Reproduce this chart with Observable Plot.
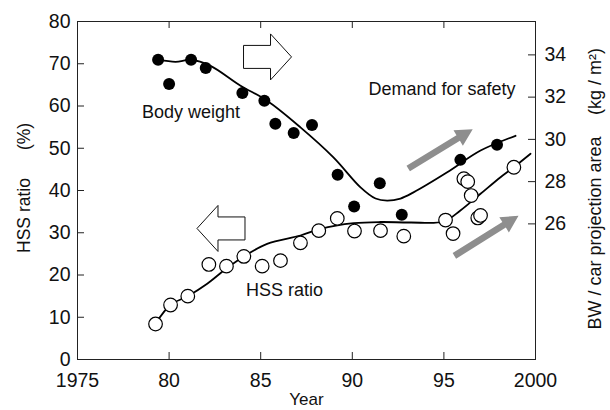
<!DOCTYPE html>
<html>
<head>
<meta charset="utf-8">
<script src="https://cdn.jsdelivr.net/npm/d3@7"></script>
<script src="https://cdn.jsdelivr.net/npm/@observablehq/plot@0.6"></script>
<style>
  html, body { margin: 0; padding: 0; background: #fff; }
  #chart { width: 610px; height: 410px; overflow: hidden; }
</style>
</head>
<body>
<div id="chart"></div>
<script>
// ---- Data ----
// Body weight per car projection area (kg/m^2) – filled dots, right axis
const bwYears  = [1979.4, 1980.0, 1981.2, 1982.0, 1984.0, 1985.2, 1985.8, 1986.8, 1987.8, 1989.2, 1990.1, 1991.5, 1992.7, 1995.9, 1997.9];
const bwValues = [33.77, 32.62, 33.77, 33.38, 32.19, 31.83, 30.74, 30.30, 30.68, 28.33, 26.82, 27.92, 26.43, 29.03, 29.75];

// Body weight trend curve (kg/m^2)
const bwCurveYears  = [1979.44, 1980.35, 1981.21, 1982.26, 1983.9, 1985.35, 1987.17, 1988.97, 1990.45, 1991.27, 1991.9, 1992.63, 1993.34, 1995.18, 1997.0, 1998.91];
const bwCurveValues = [33.77, 33.67, 33.77, 33.48, 32.54, 31.83, 30.57, 29.15, 27.73, 27.2, 27.1, 27.2, 27.49, 28.44, 29.47, 30.17];

// HSS ratio (%) – open circles, left axis
const hssYears  = [1979.26, 1980.08, 1981.02, 1982.17, 1983.13, 1984.08, 1985.08, 1986.08, 1987.17, 1988.17, 1989.18, 1990.12, 1991.54, 1992.81, 1995.09, 1995.5, 1996.09, 1996.3, 1996.49, 1996.85, 1997.0, 1998.82];
const hssValues = [8.4, 12.9, 15.0, 22.5, 22.1, 24.4, 22.1, 23.4, 27.6, 30.5, 33.4, 30.4, 30.5, 29.2, 33.0, 29.8, 42.8, 42.1, 38.8, 33.5, 34.1, 45.5];

// HSS ratio trend curve (%)
const hssCurveYears  = [1979.26, 1980.08, 1981.02, 1982.08, 1983.13, 1984.08, 1985.35, 1987.17, 1988.26, 1990.08, 1991.54, 1993.18, 1994.99, 1995.9, 1997.0, 1998.09, 1998.82, 1999.73];
const hssCurveValues = [8.45, 12.95, 14.98, 17.92, 21.54, 24.38, 27.38, 29.35, 30.93, 32.26, 32.54, 32.43, 32.66, 35.27, 39.22, 43.15, 45.52, 48.69];

// Axes
const xTicks = [1975, 1980, 1985, 1990, 1995, 2000];
const xTickLabels = ["1975", "80", "85", "90", "95", "2000"];
const yTicks = [0, 10, 20, 30, 40, 50, 60, 70, 80];
const rightTicks = [26, 28, 30, 32, 34];

// Annotations (data coordinates: year, HSS %)
const grayArrowFrom = [[1993.08, 45.1], [1995.6, 24.4]];
const grayArrowTo   = [[1996.6, 54.4], [1999.1, 33.9]];
const blockArrowAt  = [[1985.4, 71.5], [1982.86, 30.9]];
const blockArrowDir = [1, -1];

const labels = ["Body weight", "HSS ratio", "Demand for safety"];
const labelYears = [1981.2, 1986.3, 1994.9];
const labelValues = [58.5, 16.3, 64.0];

// right axis (kg/m^2) mapped onto left (%) scale
const toLeft = r => 32.1 + (r - 26) * 5;
const fromLeft = l => 26 + (l - 32.1) / 5;

const bw = bwYears.map((x, i) => ({x, y: toLeft(bwValues[i])}));
const bwCurve = bwCurveYears.map((x, i) => ({x, y: toLeft(bwCurveValues[i])}));
const hss = hssYears.map((x, i) => ({x, y: hssValues[i]}));
const hssCurve = hssCurveYears.map((x, i) => ({x, y: hssCurveValues[i]}));
const texts = labels.map((t, i) => ({t, x: labelYears[i], y: labelValues[i]}));

const FONT = "'Liberation Sans', Arial, Helvetica, sans-serif";
const W = 610, H = 410, ML = 77, MR = 75, MT = 21, MB = 51;
const frameW = W - ML - MR, frameH = H - MT - MB;
const TICK = 7;

function arrowsMark(index, scales) {
  const sx = scales.x, sy = scales.y;
  const g = d3.create("svg:g");
  // gray arrows
  grayArrowFrom.forEach((f, i) => {
    const t = grayArrowTo[i];
    const x1 = sx(f[0]), y1 = sy(f[1]), x2 = sx(t[0]), y2 = sy(t[1]);
    const dx = x2 - x1, dy = y2 - y1, len = Math.hypot(dx, dy);
    const ux = dx / len, uy = dy / len, px = -uy, py = ux;
    const hl = 17, hw = 9, sw = 3.3;
    const bx = x2 - ux * hl, by = y2 - uy * hl;
    const pts = [
      [x1 + px * sw, y1 + py * sw], [bx + px * sw, by + py * sw], [bx + px * hw, by + py * hw],
      [x2, y2],
      [bx - px * hw, by - py * hw], [bx - px * sw, by - py * sw], [x1 - px * sw, y1 - py * sw]
    ];
    g.append("polygon").attr("points", pts.map(p => p.join(",")).join(" "))
      .attr("fill", "#8e8e8e");
  });
  // block (outline) arrows
  blockArrowAt.forEach((c, i) => {
    const cx = sx(c[0]), cy = sy(c[1]), d = blockArrowDir[i];
    const L = 48, hl = 21, bh = 11.5, hh = 23;
    const pts = [
      [-L / 2, -bh], [L / 2 - hl, -bh], [L / 2 - hl, -hh], [L / 2, 0],
      [L / 2 - hl, hh], [L / 2 - hl, bh], [-L / 2, bh]
    ].map(([x, y]) => [cx + d * x, cy + y]);
    g.append("polygon").attr("points", pts.map(p => p.join(",")).join(" "))
      .attr("fill", "#fff").attr("stroke", "#111").attr("stroke-width", 1);
  });
  return g.node();
}

const chart = Plot.plot({
  width: W, height: H,
  marginLeft: ML, marginRight: MR, marginTop: MT, marginBottom: MB,
  style: {fontFamily: FONT, fontSize: "19px", color: "#111", background: "#fff"},
  x: {domain: [1975, 2000]},
  y: {domain: [0, 80]},
  marks: [
    Plot.frame({stroke: "#222", strokeWidth: 1}),
    // inward ticks
    Plot.tickX(xTicks.slice(1, -1), {x: d => d, insetTop: frameH - TICK, stroke: "#222"}),
    Plot.tickX(xTicks.slice(1, -1), {x: d => d, insetBottom: frameH - TICK, stroke: "#222"}),
    Plot.tickY(yTicks, {y: d => d, insetRight: frameW - TICK, stroke: "#222"}),
    Plot.tickY(rightTicks.map(toLeft), {y: d => d, insetLeft: frameW - TICK, stroke: "#222"}),
    // tick labels
    Plot.axisX({ticks: xTicks, tickFormat: d => xTickLabels[xTicks.indexOf(d)], tickSize: 0, tickPadding: 14, fontSize: 19.5, label: null}),
    Plot.axisY({ticks: yTicks, tickSize: 0, tickPadding: 7, fontSize: 19.5, label: null}),
    Plot.axisY({anchor: "right", ticks: rightTicks.map(toLeft), tickFormat: d => String(Math.round(fromLeft(d))), tickSize: 0, tickPadding: 9, fontSize: 19.5, label: null}),
    // axis titles
    Plot.text(["Year"], {frameAnchor: "bottom", textAnchor: "middle", dy: 45, fontSize: 17, fill: "#111"}),
    Plot.text(["HSS ratio"], {frameAnchor: "left", textAnchor: "middle", dx: -53, dy: 25, rotate: -90, fontSize: 17.5, fill: "#111"}),
    Plot.text(["(%)"], {frameAnchor: "left", textAnchor: "middle", dx: -53, dy: -54, rotate: -90, fontSize: 17.5, fill: "#111"}),
    Plot.text(["BW / car projection area"], {frameAnchor: "right", textAnchor: "middle", dx: 60, dy: 42.5, rotate: -90, fontSize: 18, fill: "#111"}),
    Plot.text(["(kg / m²)"], {frameAnchor: "right", textAnchor: "middle", dx: 60, dy: -109, rotate: -90, fontSize: 18, fill: "#111"}),
    // annotations
    arrowsMark,
    Plot.text(texts, {x: "x", y: "y", text: "t", fontSize: 18, fill: "#111"}),
    // curves
    Plot.line(bwCurve, {x: "x", y: "y", curve: "catmull-rom", stroke: "#000", strokeWidth: 1.8}),
    Plot.line(hssCurve, {x: "x", y: "y", curve: "catmull-rom", stroke: "#000", strokeWidth: 1.8}),
    // points
    Plot.dot(hss, {x: "x", y: "y", r: 6.8, fill: "#fff", stroke: "#000", strokeWidth: 1.2}),
    Plot.dot(bw, {x: "x", y: "y", r: 6, fill: "#000", stroke: "none"})
  ]
});
document.getElementById("chart").appendChild(chart);
</script>
</body>
</html>
